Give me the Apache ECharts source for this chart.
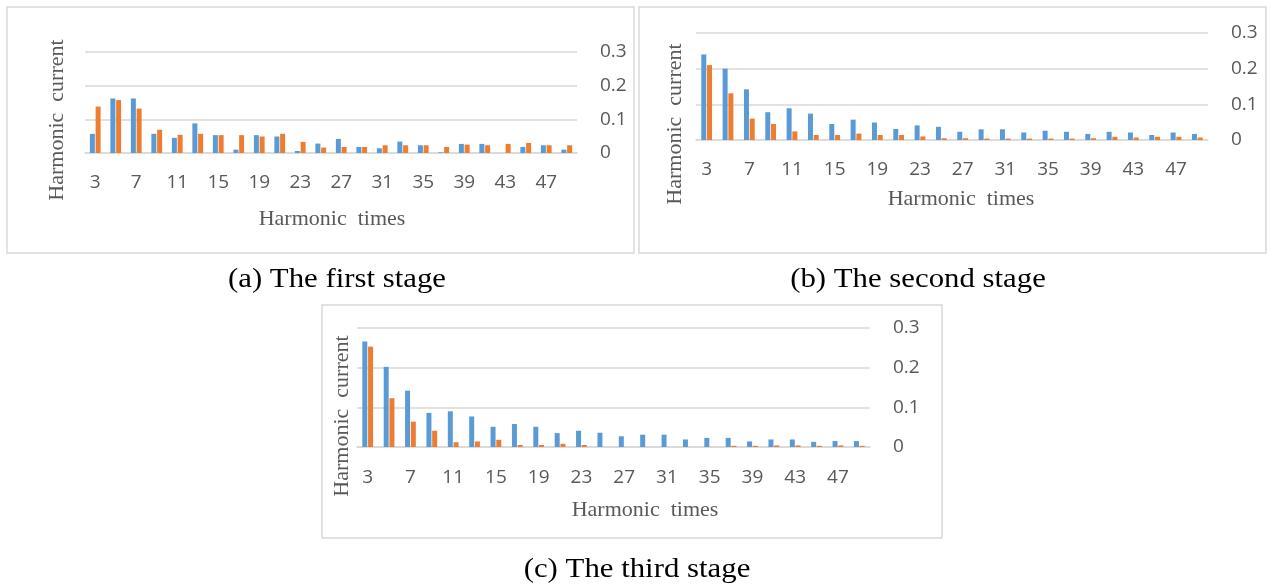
<!DOCTYPE html>
<html>
<head>
<meta charset="utf-8">
<script src="https://cdn.jsdelivr.net/npm/echarts@6/dist/echarts.min.js"></script>
<style>html,body{margin:0;padding:0;background:#fff}#c{width:1270px;height:588px}</style>
</head>
<body>
<div id="c"></div>
<script>
const harmonicOrders = ['3','5','7','9','11','13','15','17','19','21','23','25','27','29','31','33','35','37','39','41','43','45','47','49'];
const yTicks = [0, 0.1, 0.2, 0.3];

const stage1Blue   = [0.057,0.162,0.162,0.057,0.045,0.088,0.053,0.010,0.053,0.049,0.006,0.028,0.042,0.018,0.014,0.034,0.023,0.002,0.027,0.027,0.000,0.018,0.023,0.010];
const stage1Orange = [0.138,0.157,0.132,0.069,0.054,0.057,0.053,0.053,0.049,0.057,0.033,0.016,0.018,0.018,0.023,0.023,0.023,0.018,0.025,0.023,0.027,0.030,0.023,0.023];

const stage2Blue   = [0.240,0.200,0.142,0.078,0.089,0.074,0.045,0.057,0.049,0.031,0.041,0.037,0.023,0.030,0.030,0.021,0.026,0.023,0.017,0.023,0.021,0.014,0.021,0.017];
const stage2Orange = [0.210,0.131,0.060,0.045,0.024,0.014,0.014,0.018,0.014,0.014,0.010,0.005,0.005,0.004,0.004,0.004,0.004,0.004,0.005,0.009,0.007,0.009,0.009,0.007];

const stage3Blue   = [0.266,0.202,0.142,0.086,0.090,0.077,0.051,0.058,0.051,0.035,0.041,0.036,0.027,0.031,0.031,0.019,0.023,0.023,0.014,0.019,0.019,0.013,0.015,0.015];
const stage3Orange = [0.253,0.123,0.064,0.041,0.012,0.014,0.018,0.005,0.005,0.008,0.005,0.000,0.000,0.000,0.000,0.000,0.000,0.003,0.003,0.004,0.004,0.003,0.004,0.003];

const yAxisTitle = 'Harmonic  current';
const xAxisTitle = 'Harmonic  times';
const captions = ['(a) The first stage', '(b) The second stage', '(c) The third stage'];

const BLUE = '#5B9BD5', ORANGE = '#ED7D31', GRID = '#d9d9d9', LABEL = '#595959';
const SANS = '"Open Sans", "Liberation Sans", sans-serif';
const SERIF = '"Liberation Serif", "DejaVu Serif", serif';

const grids = [
  {left: 85,  top: 52,  width: 492, height: 101},
  {left: 696, top: 33,  width: 512, height: 107},
  {left: 357, top: 328, width: 513, height: 119}
];
const stages = [[stage1Blue, stage1Orange],[stage2Blue, stage2Orange],[stage3Blue, stage3Orange]];

const xAxes = grids.map((g,i)=>({
  type:'category', gridIndex:i, data: harmonicOrders,
  axisTick:{show:false},
  axisLine:{show:true, lineStyle:{color:GRID, width:1.5}},
  axisLabel:{interval:1, color:LABEL, fontFamily:SANS, fontSize:19, margin: i===2?21:20}
}));
const yAxes = grids.map((g,i)=>({
  type:'value', gridIndex:i, position:'right',
  min: yTicks[0], max: yTicks[yTicks.length-1], interval: 0.1,
  axisLine:{show:false}, axisTick:{show:false},
  splitLine:{show:true, lineStyle:{color:GRID, width:1.5}},
  axisLabel:{color:LABEL, fontFamily:SANS, fontSize:19, margin:23}
}));
const series = [];
stages.forEach((s,i)=>{
  series.push({type:'bar', xAxisIndex:i, yAxisIndex:i, data:s[0], barWidth:5, barGap:'15%', itemStyle:{color:BLUE}, silent:true});
  series.push({type:'bar', xAxisIndex:i, yAxisIndex:i, data:s[1], barWidth:5, barGap:'15%', itemStyle:{color:ORANGE}, silent:true});
});

const borders = [
  [7,7,627,246],[639,7,627,246],[322,305,620,233]
];
const graphic = [];
borders.forEach(b=>graphic.push({type:'rect', shape:{x:b[0],y:b[1],width:b[2],height:b[3]}, style:{fill:null, stroke:GRID, lineWidth:1.5}, silent:true}));
const vTitles = [[57,120],[675,124],[342,416]];
vTitles.forEach(p=>graphic.push({type:'text', x:p[0], y:p[1], rotation:Math.PI/2, style:{text:yAxisTitle, x:0, y:0, fill:LABEL, font:'22px '+SERIF, align:'center', verticalAlign:'middle'}, silent:true}));
const hTitles = [[332,219],[961,199],[645,510]];
hTitles.forEach(p=>graphic.push({type:'text', x:p[0], y:p[1], style:{text:xAxisTitle, x:0, y:0, fill:LABEL, font:'22px '+SERIF, align:'center', verticalAlign:'middle'}, silent:true}));
const capPos = [[337,280],[918,280],[637,570]];
capPos.forEach((p,i)=>graphic.push({type:'text', x:p[0], y:p[1], scaleX:1.1, style:{text:captions[i], x:0, y:0, fill:'#000', font:'28px '+SERIF, align:'center', verticalAlign:'middle'}, silent:true}));

const chart = echarts.init(document.getElementById('c'), null, {renderer:'canvas'});
chart.setOption({
  animation:false,
  backgroundColor:'#fff',
  grid: grids.map(g=>Object.assign({containLabel:false}, g)),
  xAxis: xAxes, yAxis: yAxes, series: series, graphic: graphic
});
</script>
</body>
</html>
